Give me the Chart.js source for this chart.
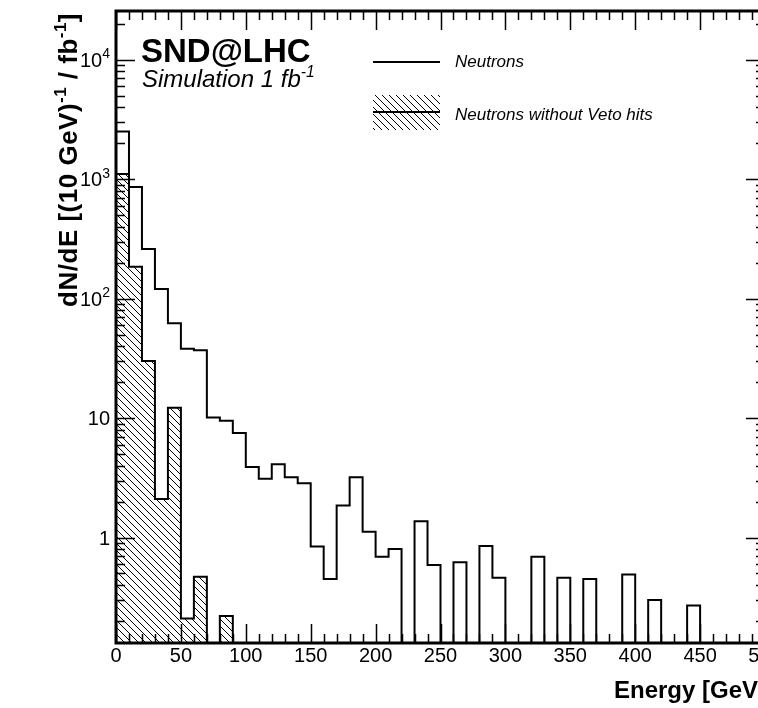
<!DOCTYPE html>
<html>
<head>
<meta charset="utf-8">
<script src="https://cdn.jsdelivr.net/npm/chart.js@4.4.1/dist/chart.umd.min.js"></script>
<style>
  html, body { margin: 0; padding: 0; background: #fff; overflow: hidden; }
  #wrap { width: 800px; height: 708px; }
</style>
</head>
<body>
<div id="wrap"><canvas id="c" width="800" height="708"></canvas></div>
<script>
// ── SND@LHC neutron energy spectrum (simulation, 1 fb^-1) ─────────────

// bin edges, 10 GeV wide
const binEdges = [0, 10, 20, 30, 40, 50, 60, 70, 80, 90, 100, 110, 120, 130, 140, 150, 160, 170, 180, 190,
  200, 210, 220, 230, 240, 250, 260, 270, 280, 290, 300, 310, 320, 330, 340, 350, 360, 370, 380, 390,
  400, 410, 420, 430, 440, 450, 460, 470, 480, 490, 500];

// dN/dE per bin (0 = empty bin)
const neutrons = [2500, 860, 260, 120, 62, 38, 37, 10.1, 9.5, 7.5,
  3.9, 3.1, 4.1, 3.2, 2.85, 0.84, 0.45, 1.85, 3.2, 1.12,
  0.69, 0.8, 0, 1.37, 0.59, 0, 0.62, 0, 0.85, 0.46,
  0, 0, 0.69, 0, 0.46, 0, 0.45, 0, 0, 0.49,
  0, 0.3, 0, 0, 0.27, 0, 0, 0, 0, 0];
const neutronsNoVeto = [1100, 185, 30, 2.1, 12.2, 0.21, 0.47, 0, 0.22, 0,
  0, 0, 0, 0, 0, 0, 0, 0, 0, 0,
  0, 0, 0, 0, 0, 0, 0, 0, 0, 0,
  0, 0, 0, 0, 0, 0, 0, 0, 0, 0,
  0, 0, 0, 0, 0, 0, 0, 0, 0, 0];

const seriesNames = ["Neutrons", "Neutrons without Veto hits"];
const xTicks = [0, 50, 100, 150, 200, 250, 300, 350, 400, 450, 500];
const yDecades = [1, 10, 100, 1000, 10000];
const yLabels = ["1", "10", "10^2", "10^3", "10^4"];

const Y_MIN = 0.131;
const Y_MAX = 25500;
const EMPTY = 0.01; // empty bins drop below the axis floor (log scale can't take 0)
const FONT = '"Liberation Sans", Arial, Helvetica, sans-serif';

Chart.defaults.font.family = FONT;
Chart.defaults.color = "#000";

const canvas = document.getElementById("c");
const ctx0 = canvas.getContext("2d");

// ROOT fill style 3005-ish: "\\\\" hatching
function makeHatch() {
  const s = 7;
  const tile = document.createElement("canvas");
  tile.width = s;
  tile.height = s;
  const g = tile.getContext("2d");
  g.strokeStyle = "#000";
  g.lineWidth = 1;
  g.beginPath();
  for (const k of [-s, 0, s]) {
    g.moveTo(k, 0);
    g.lineTo(k + s, s);
  }
  g.stroke();
  return ctx0.createPattern(tile, "repeat");
}
const hatch = makeHatch();

// step points: value of bin i holds from edge i to edge i+1
const toSteps = (vals) =>
  binEdges.map((x, i) => {
    const v = vals[Math.min(i, vals.length - 1)];
    return { x, y: v > 0 ? v : EMPTY };
  });

// text with superscripts, parts: [[text, isSup], ...]
function richWidth(ctx, parts, size, weight, style, supScale) {
  let w = 0;
  for (const [t, sup] of parts) {
    ctx.font = `${style} ${weight} ${sup ? size * supScale : size}px ${FONT}`;
    w += ctx.measureText(t).width;
  }
  return w;
}
function drawRich(ctx, parts, x, y, size, weight, style, align, supScale = 0.65) {
  const w = richWidth(ctx, parts, size, weight, style, supScale);
  let cx = align === "right" ? x - w : x;
  ctx.textAlign = "left";
  ctx.textBaseline = "alphabetic";
  for (const [t, sup] of parts) {
    ctx.font = `${style} ${weight} ${sup ? size * supScale : size}px ${FONT}`;
    ctx.fillText(t, cx, sup ? y - size * 0.42 : y);
    cx += ctx.measureText(t).width;
  }
}
const splitSup = (s) => {
  const [base, exp] = s.split("^");
  return exp ? [[base, false], [exp, true]] : [[base, false]];
};

// ── frame, ticks, labels, legend, titles ─────────────────────────────
const rootFrame = {
  id: "rootFrame",
  afterDatasetsDraw(chart) {
    const { ctx, chartArea: a, scales } = chart;
    const xs = scales.x, ys = scales.y;
    ctx.save();
    ctx.strokeStyle = "#000";
    ctx.fillStyle = "#000";

    // x ticks (every bin edge, long at labelled values), bottom + top
    ctx.lineWidth = 1.5;
    ctx.beginPath();
    binEdges.forEach((e) => {
      const px = Math.round(xs.getPixelForValue(e)) + 0.5;
      const len = xTicks.includes(e) ? 19 : 9;
      ctx.moveTo(px, a.bottom);
      ctx.lineTo(px, a.bottom - len);
      ctx.moveTo(px, a.top);
      ctx.lineTo(px, a.top + len);
    });
    // y ticks, log: 1..9 x 10^k, left + right
    for (let k = -1; k <= 4; k++) {
      for (let m = 1; m <= 9; m++) {
        const v = m * Math.pow(10, k);
        if (v < Y_MIN || v > Y_MAX) continue;
        const py = Math.round(ys.getPixelForValue(v)) + 0.5;
        const len = m === 1 ? 19 : 9;
        ctx.moveTo(a.left, py);
        ctx.lineTo(a.left + len, py);
        ctx.moveTo(a.right, py);
        ctx.lineTo(a.right - len, py);
      }
    }
    ctx.stroke();

    // frame
    ctx.lineWidth = 3;
    ctx.strokeRect(a.left, a.top, a.right - a.left, a.bottom - a.top);

    // y tick labels
    yDecades.forEach((v, i) => {
      const py = ys.getPixelForValue(v);
      drawRich(ctx, splitSup(yLabels[i]), a.left - 6, py + 7, 20, "normal", "normal", "right", 0.7);
    });

    // y title, rotated, aligned to top of axis
    ctx.save();
    ctx.translate(77, a.top + 2);
    ctx.rotate(-Math.PI / 2);
    ctx.letterSpacing = "0.5px";
    drawRich(ctx, [["dN/dE [(10 GeV)", false], ["-1", true], [" / fb", false], ["-1", true], ["]", false]],
      0, 0, 26, "bold", "normal", "right");
    ctx.letterSpacing = "0px";
    ctx.restore();

    // x title, aligned to end of axis
    ctx.font = `bold 24px ${FONT}`;
    ctx.textAlign = "right";
    ctx.textBaseline = "alphabetic";
    ctx.fillText("Energy [GeV]", a.right + 1, 698);

    // experiment label
    ctx.textAlign = "left";
    ctx.font = `bold 33px ${FONT}`;
    ctx.fillText("SND@LHC", 141, 62);
    drawRich(ctx, [["Simulation 1 fb", false], ["-1", true]], 142, 87, 24, "normal", "italic", "left");

    // legend
    const ds = chart.data.datasets;
    ctx.lineWidth = 2;
    ctx.beginPath();
    ctx.moveTo(373, 62);
    ctx.lineTo(440, 62);
    ctx.stroke();
    ctx.fillStyle = hatch;
    ctx.fillRect(373, 95, 67, 35);
    ctx.beginPath();
    ctx.moveTo(373, 112);
    ctx.lineTo(440, 112);
    ctx.stroke();
    ctx.fillStyle = "#000";
    ctx.font = `italic 17px ${FONT}`;
    ctx.textAlign = "left";
    ctx.fillText(ds[0].label, 455, 67);
    ctx.fillText(ds[1].label, 455, 120);

    ctx.restore();
  },
};

new Chart(canvas, {
  type: "line",
  data: {
    datasets: [
      {
        label: seriesNames[0],
        data: toSteps(neutrons),
        stepped: true,
        borderColor: "#000",
        borderWidth: 2,
        pointRadius: 0,
        fill: false,
      },
      {
        label: seriesNames[1],
        data: toSteps(neutronsNoVeto),
        stepped: true,
        borderColor: "#000",
        borderWidth: 2,
        pointRadius: 0,
        fill: "start",
        backgroundColor: hatch,
      },
    ],
  },
  options: {
    responsive: false,
    animation: false,
    devicePixelRatio: 1,
    layout: { padding: { left: 116, right: 35, top: 11, bottom: 0 } },
    plugins: { legend: { display: false }, tooltip: { enabled: false } },
    scales: {
      x: {
        type: "linear",
        min: 0,
        max: 500,
        afterBuildTicks: (s) => {
          s.ticks = xTicks.map((v) => ({ value: v }));
        },
        afterFit: (s) => {
          s.height = 65;
        },
        ticks: { font: { size: 20 }, color: "#000", padding: 1, maxRotation: 0, autoSkip: false },
        grid: { display: false, drawTicks: false },
        border: { display: false },
      },
      y: {
        type: "logarithmic",
        display: false,
        min: Y_MIN,
        max: Y_MAX,
      },
    },
  },
  plugins: [rootFrame],
});
</script>
</body>
</html>
